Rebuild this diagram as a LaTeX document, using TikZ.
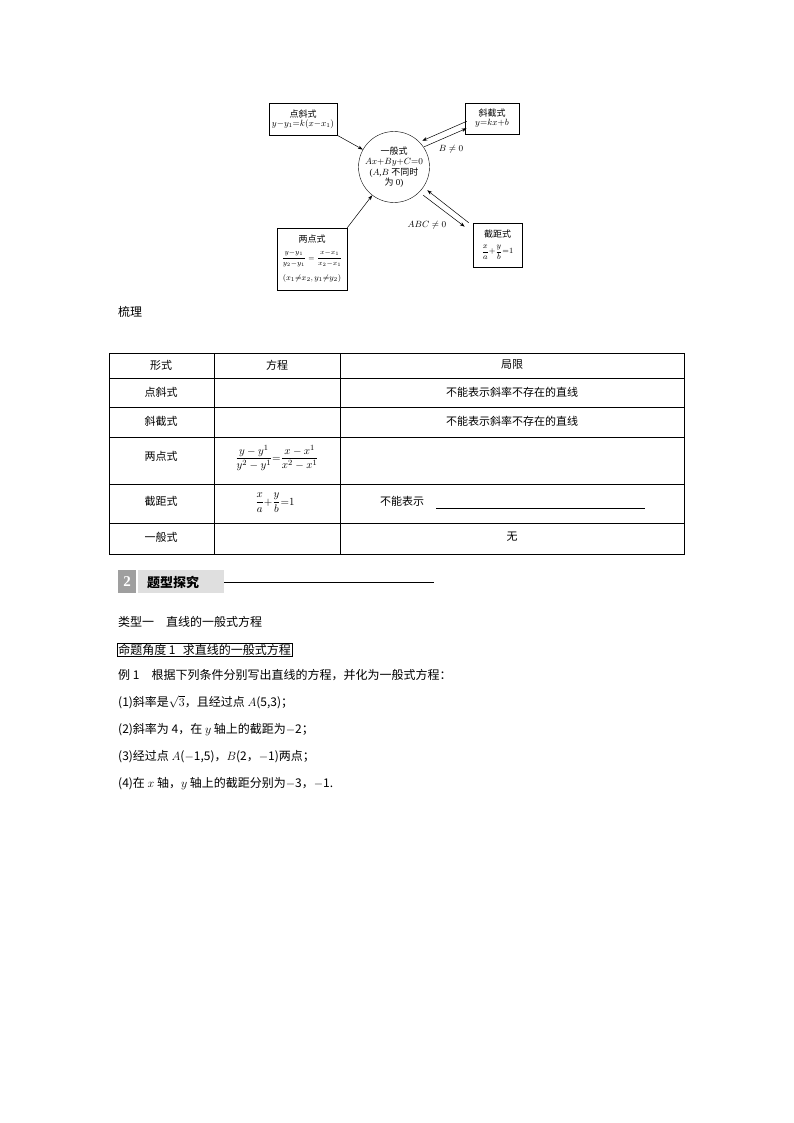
\documentclass[tikz,border=0pt]{standalone}
\usepackage{amsmath}
\usepackage{fontspec}
\setmainfont{Liberation Serif}
\newfontfamily\cjk{Noto Sans CJK SC}
\usetikzlibrary{arrows.meta,calc}
\begin{document}
\begin{tikzpicture}[x=1pt,y=-1pt,
 bx/.style={draw,line width=0.6pt,align=center,font=\cjk\fontsize{9}{10}\selectfont,inner sep=2pt},
 ar/.style={-{Stealth[length=5pt,width=3.5pt]},line width=0.5pt},
 body/.style={anchor=west,font=\cjk\fontsize{12}{14}\selectfont,inner sep=0},
 cell/.style={font=\cjk\fontsize{11}{13}\selectfont,inner sep=0}]
\useasboundingbox (0,0) rectangle (794,1123);
% diagram
\node[draw,circle,minimum size=70pt,align=center,font=\fontsize{9}{10.5}\selectfont,inner sep=0] (c) at (394,167) {{\cjk 一般式}\\$Ax{+}By{+}C{=}0$\\($A$,$B$ {\cjk 不同时}\\{\cjk 为} 0)};
\node[bx,minimum width=68pt,minimum height=32pt] (p) at (303,119) {点斜式\\[-1pt]\fontsize{9}{10}\selectfont $y{-}y_1{=}k(x{-}x_1)$};
\node[bx,minimum width=54pt,minimum height=31pt] (s) at (492,118.5) {斜截式\\[-1pt]\fontsize{9}{10}\selectfont $y{=}kx{+}b$};
\node[bx,minimum width=49pt,minimum height=44pt] (j) at (497.5,245) {截距式\\[6pt]\fontsize{8}{9}\selectfont $\dfrac{x}{a}{+}\dfrac{y}{b}{=}1$};
\node[bx,minimum width=70pt,minimum height=62pt] (t) at (312,259) {两点式\\[6pt]\fontsize{7.5}{9}\selectfont $\dfrac{y{-}y_1}{y_2{-}y_1}=\dfrac{x{-}x_1}{x_2{-}x_1}$\\[7pt]\fontsize{8}{9}\selectfont $(x_1{\neq}x_2,y_1{\neq}y_2)$};
\draw[ar] (p.south east) -- (c);
\draw[ar] (t.north east) -- (c);
\coordinate (s1) at ($(s.south west)+(2,-13)$);
\coordinate (s2) at ($(s.south west)+(2,-6)$);
\draw[ar] (s1) -- ($(c.north east)+(3,-1)$);
\draw[ar] ($(c.north east)+(5,5)$) -- (s2);
\node[font=\fontsize{9}{10}\selectfont] (bl) at (451,149) {$B\neq0$};
\coordinate (j1) at ($(j.north west)+(-4,0)$);
\coordinate (j2) at ($(j.north west)+(-8,4)$);
\draw[ar] (j1) -- ($(c.south east)+(8,-2)$);
\draw[ar] ($(c.south east)+(4,3)$) -- (j2);
\node[font=\fontsize{9}{10}\selectfont] (al) at (427,225) {$ABC\neq0$};
% 梳理
\node[body] (sl) at (118,312) {梳理};
% table
\draw[line width=0.6pt] (109,353) rectangle (684,554);
\foreach \y in {378,407,437,484,523} \draw[line width=0.5pt] (109,\y) -- (684,\y);
\draw[line width=0.5pt] (214,353) -- (214,554) (340,353) -- (340,554);
\node[cell] (h1) at (161,365) {形式};
\node[cell] (h2) at (277,365) {方程};
\node[cell] (h3) at (512,365) {局限};
\node[cell] (r1) at (161,392) {点斜式};
\node[cell] (r2) at (161,421) {斜截式};
\node[cell] (r3) at (161,456) {两点式};
\node[cell] (r4) at (161,501) {截距式};
\node[cell] (r5) at (161,537) {一般式};
\node[cell] (l1) at (512,392) {不能表示斜率不存在的直线};
\node[cell] (l2) at (512,421) {不能表示斜率不存在的直线};
\node[cell] (l5) at (512,537) {无};
\node[font=\fontsize{11}{13}\selectfont] (e3) at (277,458) {$\dfrac{y-y^1}{y^2-y^1}{=}\dfrac{x-x^1}{x^2-x^1}$};
\node[font=\fontsize{11}{13}\selectfont] (e4) at (275,503) {$\dfrac{x}{a}{+}\dfrac{y}{b}{=}1$};
\node[cell,anchor=west] (l4) at (380,501) {不能表示};
\draw[line width=0.5pt] (436,508) -- (645,508);
% section header
\fill[gray!75] (118,570) rectangle (136,593);
\node[font=\bfseries\fontsize{15}{15}\selectfont,white] (n2) at (127,582) {2};
\fill[gray!25] (138,570) -- (224,570) -- (224,593) -- (138,593) -- cycle;
\node[anchor=west,font=\cjk\bfseries\fontsize{13}{15}\selectfont,inner sep=0] (tx) at (147,582) {题型探究};
\draw[line width=0.5pt] (224,582) -- (434,582);
% body
\node[body] (b1) at (118,622) {类型一\hspace{1em}直线的一般式方程};
\node[body,draw,line width=0.5pt,inner sep=1pt] (b2) at (117,650) {命题角度 1\hspace{0.6em}求直线的一般式方程};
\node[body] (b3) at (118,675) {例 1\hspace{1em}根据下列条件分别写出直线的方程，并化为一般式方程：};
\node[body] (b4) at (118,702) {(1)斜率是$\sqrt{3}$，且经过点 $A$(5,3)；};
\node[body] (b5) at (118,730) {(2)斜率为 4，在 $y$ 轴上的截距为$-$2；};
\node[body] (b6) at (118,757) {(3)经过点 $A$($-$1,5)，$B$(2，$-$1)两点；};
\node[body] (b7) at (118,784) {(4)在 $x$ 轴，$y$ 轴上的截距分别为$-$3，$-$1.};
\end{tikzpicture}
\end{document}
